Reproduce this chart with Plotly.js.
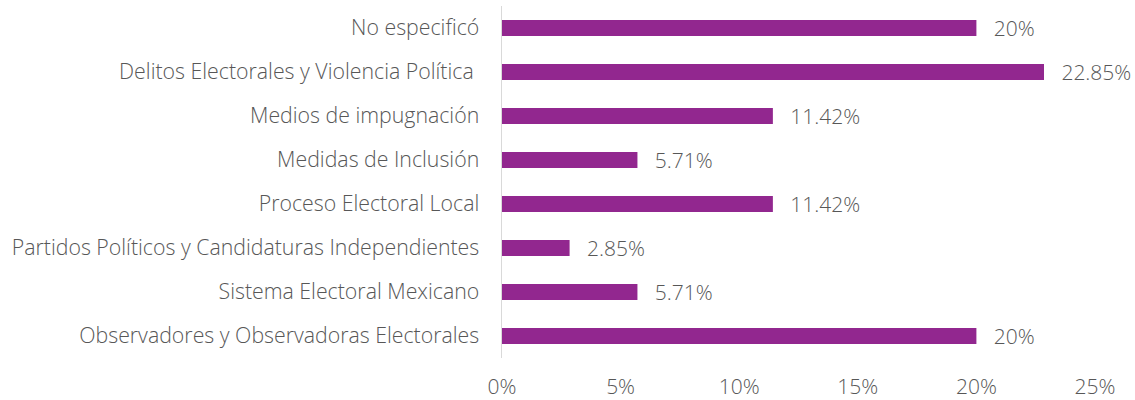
<!DOCTYPE html>
<html><head><meta charset="utf-8">
<script src="https://cdn.plot.ly/plotly-3.0.1.min.js"></script>
<style>html,body{margin:0;padding:0;background:#fff}#chart{width:1135px;height:400px}</style>
</head><body><div id="chart"></div>
<script>
const categories = [
  "No especificó",
  "Delitos Electorales y Violencia Política ",
  "Medios de impugnación",
  "Medidas de Inclusión",
  "Proceso Electoral Local",
  "Partidos Políticos y Candidaturas Independientes",
  "Sistema Electoral Mexicano",
  "Observadores y Observadoras Electorales"
];
const values = [20, 22.85, 11.42, 5.71, 11.42, 2.85, 5.71, 20];
const valueLabels = ["20%", "22.85%", "11.42%", "5.71%", "11.42%", "2.85%", "5.71%", "20%"];
const xTicks = [0, 5, 10, 15, 20, 25];
const xTickLabels = ["0%", "5%", "10%", "15%", "20%", "25%"];

const FONT = "'Open Sans', sans-serif";
const F = {family: FONT, size: 21, color: "#575757", weight: 300};
const FY = {family: FONT, size: 21.3, color: "#575757", weight: 300};
const data = [{
  type: "bar",
  orientation: "h",
  y: categories,
  x: values,
  text: valueLabels.map(t => "  \u2009" + t),
  textposition: "outside",
  constraintext: "none",
  cliponaxis: false,
  textfont: F,
  marker: {color: "#92278F"},
  hoverinfo: "none"
}];
const layout = {
  width: 1135, height: 400,
  margin: {l: 502, r: 40, t: 6, b: 42},
  paper_bgcolor: "#fff", plot_bgcolor: "#fff",
  bargap: 0.636,
  showlegend: false,
  font: F,
  xaxis: {
    range: [0, 25], tickvals: xTicks, ticktext: xTickLabels,
    showgrid: false, zeroline: false, showline: false, ticks: "",
    ticklabelstandoff: 14,
    tickfont: F
  },
  yaxis: {
    autorange: "reversed", type: "category",
    showgrid: false, zeroline: false,
    showline: true, linecolor: "#d9d9d9", linewidth: 1.5,
    ticks: "", ticklabelstandoff: 17,
    tickfont: FY
  }
};
Plotly.newPlot("chart", data, layout, {displayModeBar: false, staticPlot: true});
</script></body></html>
